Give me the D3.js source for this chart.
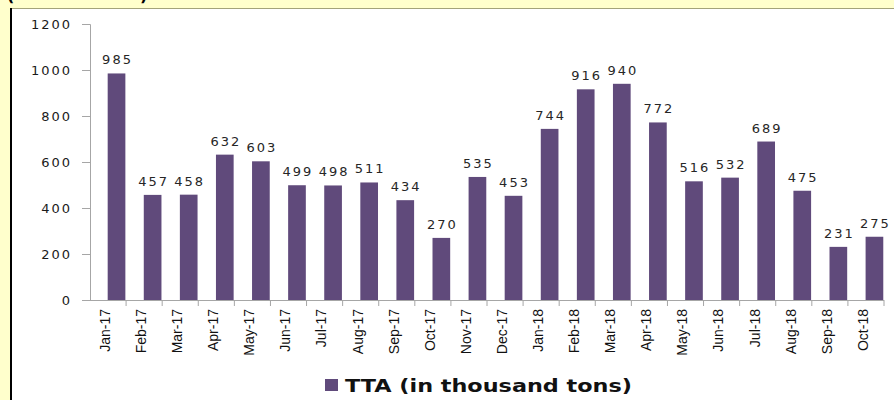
<!DOCTYPE html>
<html>
<head>
<meta charset="utf-8">
<script src="https://cdn.jsdelivr.net/npm/d3@7"></script>
<style>
  body { margin: 0; background: #fff; }
  svg { display: block; }
</style>
</head>
<body>
<svg id="chart" width="894" height="400"></svg>
<script>
// months on the category axis
var months = ["Jan-17", "Feb-17", "Mar-17", "Apr-17", "May-17", "Jun-17", "Jul-17", "Aug-17", "Sep-17", "Oct-17", "Nov-17", "Dec-17",
  "Jan-18", "Feb-18", "Mar-18", "Apr-18", "May-18", "Jun-18", "Jul-18", "Aug-18", "Sep-18", "Oct-18"];
// TTA, thousand tons
var tta = [985, 457, 458, 632, 603, 499, 498, 511, 434, 270, 535, 453,
  744, 916, 940, 772, 516, 532, 689, 475, 231, 275];
var yTicks = [0, 200, 400, 600, 800, 1000, 1200];
var seriesName = "TTA (in thousand tons)";

var barColor = "#604a7b";
var axisColor = "#a6a6a6";

var svg = d3.select("#chart");

// frame: yellow strip on the left and top
svg.append("rect").attr("x", 0).attr("y", 0).attr("width", 894).attr("height", 8).attr("fill", "#ffffcc");
svg.append("rect").attr("x", 0).attr("y", 0).attr("width", 10).attr("height", 400).attr("fill", "#ffffcc");
svg.append("line").attr("x1", 10).attr("x2", 894).attr("y1", 8.5).attr("y2", 8.5)
  .attr("stroke", "#a3a37a").attr("stroke-width", 1);
svg.append("rect").attr("x", 10).attr("y", 8).attr("width", 2).attr("height", 392).attr("fill", "#000");
// title parentheses, cut off by the top edge as in the source picture
svg.append("text").attr("x", 7).attr("y", 1).text("(")
  .style("font", "bold 16px 'DejaVu Sans'").attr("fill", "#000");
svg.append("text").attr("x", 140).attr("y", 1).text(")")
  .style("font", "bold 16px 'DejaVu Sans'").attr("fill", "#000");

var x = d3.scaleBand().domain(months).range([90, 884]).paddingInner(0).paddingOuter(0);
var y = d3.scaleLinear().domain([0, 1200]).range([300, 24]);

// y axis
var yAxis = svg.append("g").attr("transform", "translate(90,0)")
  .call(d3.axisLeft(y).tickValues(yTicks).tickSize(8).tickPadding(10).tickFormat(d3.format("d")));
yAxis.select(".domain").attr("stroke", axisColor);
yAxis.selectAll(".tick line").attr("stroke", axisColor);
yAxis.selectAll(".tick text").attr("fill", "#1a1a1a")
  .style("font-family", "'DejaVu Sans', Verdana, sans-serif").style("font-size", "13px")
  .style("letter-spacing", "2px");

// x axis with ticks between categories
var xAxis = svg.append("g").attr("transform", "translate(0,300)");
xAxis.append("line").attr("x1", 90).attr("x2", 884).attr("y1", 0.5).attr("y2", 0.5).attr("stroke", axisColor);
xAxis.selectAll("line.tk").data(months).enter().append("line").attr("class", "tk")
  .attr("x1", function(d) { return x(d) + x.step(); })
  .attr("x2", function(d) { return x(d) + x.step(); })
  .attr("y1", 0).attr("y2", 6).attr("stroke", axisColor);
xAxis.selectAll("text").data(months).enter().append("text")
  .attr("transform", function(d) {
    return "translate(" + (x(d) + x.bandwidth() / 2 - 3) + ",9) rotate(-90)";
  })
  .attr("text-anchor", "end").attr("dy", "0.35em")
  .style("font-family", "'Liberation Sans Narrow', 'Arial Narrow', sans-serif")
  .style("font-size", "14px").attr("fill", "#111")
  .text(function(d) { return d; });

// bars sit in the right half of each band
var bw = x.bandwidth();
svg.append("g").selectAll("rect").data(tta).enter().append("rect")
  .attr("x", function(d, i) { return x(months[i]) + bw * 0.49; })
  .attr("width", bw * 0.49)
  .attr("y", function(d) { return y(d); })
  .attr("height", function(d) { return y(0) - y(d); })
  .attr("fill", barColor);

// value labels
svg.append("g").selectAll("text").data(tta).enter().append("text")
  .attr("x", function(d, i) { return x(months[i]) + bw * 0.735 + 1; })
  .attr("y", function(d) { return y(d) - 9; })
  .attr("text-anchor", "middle")
  .style("font-family", "'DejaVu Sans', Verdana, sans-serif").style("font-size", "13px")
  .style("letter-spacing", "2px")
  .attr("fill", "#262626")
  .text(function(d) { return d; });

// legend
var legend = svg.append("g");
legend.append("rect").attr("x", 325).attr("y", 379).attr("width", 13).attr("height", 12).attr("fill", barColor);
legend.append("text").attr("x", 345).attr("y", 392)
  .style("font-family", "'DejaVu Sans', Verdana, sans-serif").style("font-size", "18px").style("font-weight", "bold")
  .attr("textLength", 287).attr("lengthAdjust", "spacingAndGlyphs")
  .attr("fill", "#111").text(seriesName);
</script>
</body>
</html>
